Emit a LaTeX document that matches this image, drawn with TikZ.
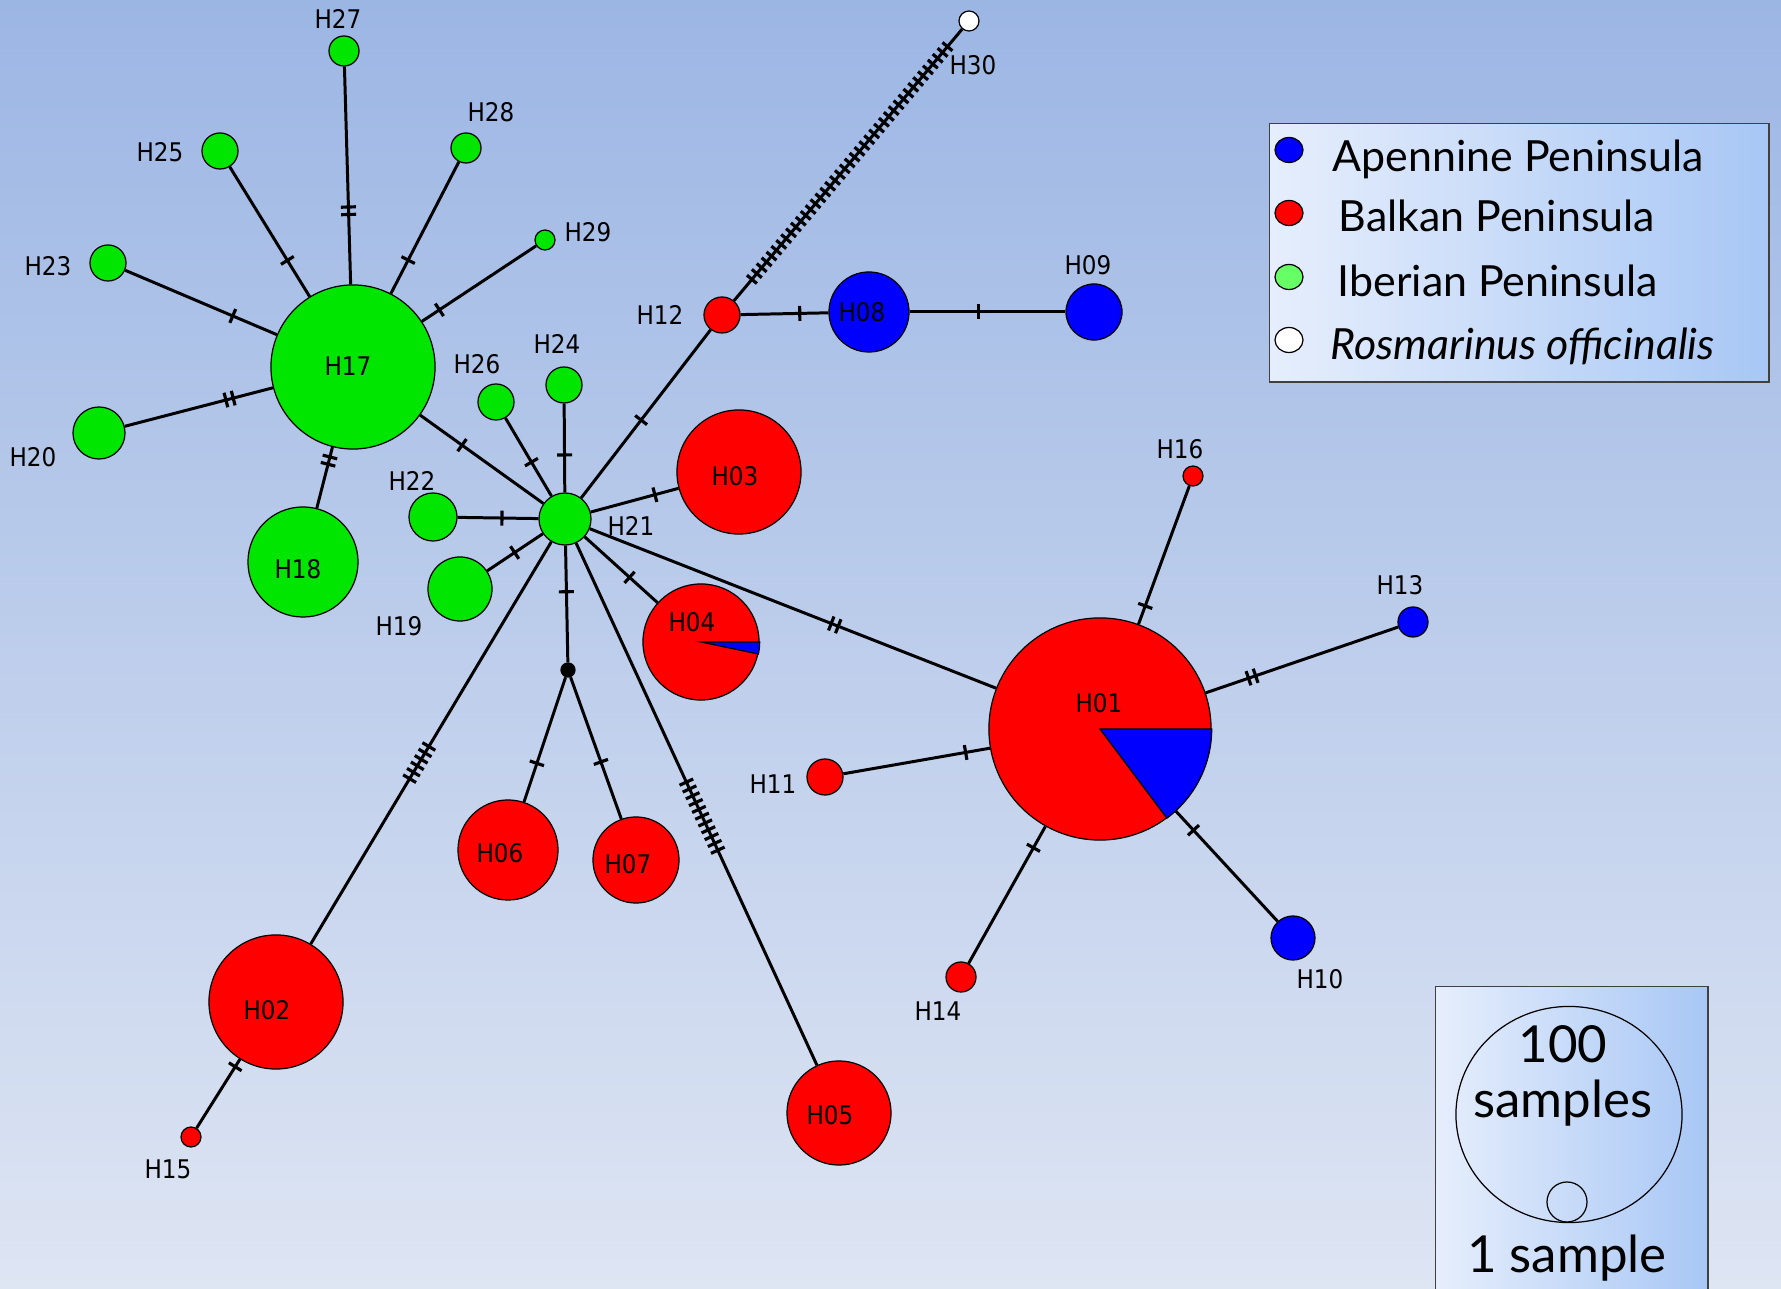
\documentclass[tikz,border=0pt]{standalone}
\usepackage{fontspec}
\setmainfont{Lato}
\newfontfamily\lblfont[FakeStretch=0.9]{DejaVu Sans}
\usetikzlibrary{decorations.markings,shapes.geometric}
\definecolor{bgtop}{RGB}{156,182,228}
\definecolor{bgbot}{RGB}{222,229,243}
\definecolor{hred}{RGB}{255,0,0}
\definecolor{hblue}{RGB}{0,0,255}
\definecolor{hgreen}{RGB}{0,230,0}
\definecolor{lgreen}{RGB}{102,255,102}
\definecolor{boxL}{RGB}{230,238,252}
\definecolor{boxR}{RGB}{168,199,245}
\begin{document}
\begin{tikzpicture}[x=0.01cm,y=-0.01cm,
  hap/.style={circle,draw=black,line width=0.35pt,inner sep=0pt,minimum size=0.02cm*#1},
  lbl/.style={font=\lblfont\fontsize{7.3}{8}\selectfont,inner sep=0pt},
  edge/.style={line width=0.85pt},
  tk/.style n args={2}{postaction={decorate,decoration={markings,mark=at position #2 with {\foreach \i in {1,...,#1}{\pgfmathsetmacro\tkoff{(\i-(#1+1)/2)*7.5}\draw[line width=0.9pt] (\tkoff,-7.5)--(\tkoff,7.5);}}}}},
  tkd/.style n args={2}{postaction={decorate,decoration={markings,mark=at position #2 with {\foreach \i in {1,...,#1}{\pgfmathsetmacro\tkoff{(\i-(#1+1)/2)*7.6}\draw[line width=0.9pt] (\tkoff,-6.5)--(\tkoff,6.5);}}}}},
  legtxt/.style={anchor=base west,inner sep=0pt,font=\fontsize{12.2}{14}\selectfont},
  sctxt/.style={anchor=base,inner sep=0pt,font=\fontsize{14.5}{16}\selectfont}
]
\useasboundingbox (0,0) rectangle (1781,1289);
\shade[top color=bgtop,bottom color=bgbot] (0,0) rectangle (1781,1289);

% haplotype nodes
\node[hap=15,fill=hgreen] (H27) at (344,51) {};
\node[hap=18,fill=hgreen] (H25) at (220,151) {};
\node[hap=15,fill=hgreen] (H28) at (466,148) {};
\node[hap=10,fill=hgreen] (H29) at (545,240) {};
\node[hap=18,fill=hgreen] (H23) at (108,263) {};
\node[hap=82,fill=hgreen] (H17) at (353,367) {};
\node[hap=26,fill=hgreen] (H20) at (99,433) {};
\node[hap=55,fill=hgreen] (H18) at (303,562) {};
\node[hap=18,fill=hgreen] (H26) at (496,402) {};
\node[hap=18,fill=hgreen] (H24) at (564,385) {};
\node[hap=24,fill=hgreen] (H22) at (433,517) {};
\node[hap=26,fill=hgreen] (H21) at (565,519) {};
\node[hap=32,fill=hgreen] (H19) at (460,589) {};
\node[hap=18,fill=hred] (H12) at (722,315) {};
\node[hap=40,fill=hblue] (H08) at (869,312) {};
\node[hap=28,fill=hblue] (H09) at (1094,312) {};
\node[hap=10,fill=white] (H30) at (969,21) {};
\node[hap=62,fill=hred] (H03) at (739,472) {};
\node[hap=58,fill=hred] (H04) at (701,642) {};
\node[hap=10,fill=hred] (H16) at (1193,476) {};
\node[hap=15,fill=hblue] (H13) at (1413,622) {};
\node[hap=111,fill=hred] (H01) at (1100,729) {};
\node[hap=18,fill=hred] (H11) at (825,777) {};
\node[hap=22,fill=hblue] (H10) at (1293,938) {};
\node[hap=15,fill=hred] (H14) at (961,977) {};
\node[hap=50,fill=hred] (H06) at (508,850) {};
\node[hap=43,fill=hred] (H07) at (636,860) {};
\node[hap=7,fill=black] (mv) at (568,670) {};
\node[hap=67,fill=hred] (H02) at (276,1002) {};
\node[hap=10,fill=hred] (H15) at (191,1137) {};
\node[hap=52,fill=hred] (H05) at (839,1113) {};

% pie slices
\filldraw[fill=hblue,draw=black,line width=0.35pt] (H01.center) -- (H01.0) arc[start angle=0,end angle=-53.4,radius=1.11cm] -- cycle;
\filldraw[fill=hblue,draw=black,line width=0.35pt] (H04.center) -- (H04.0) arc[start angle=0,end angle=-12,radius=0.58cm] -- cycle;

% edges
\draw[edge,tk={2}{0.338}] (H17) -- (H27);
\draw[edge,tk={1}{0.279}] (H17) -- (H25);
\draw[edge,tk={1}{0.254}] (H17) -- (H28);
\draw[edge,tk={1}{0.153}] (H17) -- (H29);
\draw[edge,tk={1}{0.291}] (H17) -- (H23);
\draw[edge,tk={2}{0.293}] (H17) -- (H20);
\draw[edge,tk={2}{0.222}] (H17) -- (H18);
\draw[edge,tk={1}{0.340}] (H17) -- (H21);
\draw[edge,tk={1}{0.435}] (H21) -- (H26);
\draw[edge,tk={1}{0.422}] (H21) -- (H24);
\draw[edge,tk={1}{0.451}] (H21) -- (H22);
\draw[edge,tk={1}{0.506}] (H21) -- (H19);
\draw[edge,tk={1}{0.395}] (H21) -- (mv);
\draw[edge,tk={1}{0.691}] (mv) -- (H06);
\draw[edge,tk={1}{0.598}] (mv) -- (H07);
\draw[edge,tk={6}{0.549}] (H21) -- (H02);
\draw[edge,tk={11}{0.523}] (H21) -- (H05);
\draw[edge,tk={1}{0.616}] (H21) -- (H04);
\draw[edge,tk={1}{0.731}] (H21) -- (H03);
\draw[edge,tk={1}{0.463}] (H21) -- (H12);
\draw[edge,tk={2}{0.603}] (H21) -- (H01);
\draw[edge,tkd={41}{0.508}] (H12) -- (H30);
\draw[edge,tk={1}{0.674}] (H12) -- (H08);
\draw[edge,tk={1}{0.44}] (H08) -- (H09);
\draw[edge,tk={1}{0.132}] (H01) -- (H16);
\draw[edge,tk={2}{0.241}] (H01) -- (H13);
\draw[edge,tk={1}{0.166}] (H01) -- (H11);
\draw[edge,tk={1}{0.156}] (H01) -- (H14);
\draw[edge,tk={1}{0.174}] (H01) -- (H10);
\draw[edge,tk={1}{0.109}] (H02) -- (H15);

% labels
\node[lbl] (lH27) at (338,19) {H27};
\node[lbl] (lH25) at (160,152) {H25};
\node[lbl] (lH28) at (491,112) {H28};
\node[lbl] (lH29) at (588,232) {H29};
\node[lbl] (lH23) at (48,266) {H23};
\node[lbl] (lH17) at (348,366) {H17};
\node[lbl] (lH20) at (33,457) {H20};
\node[lbl] (lH18) at (298,569) {H18};
\node[lbl] (lH26) at (477,364) {H26};
\node[lbl] (lH24) at (557,344) {H24};
\node[lbl] (lH22) at (412,481) {H22};
\node[lbl] (lH21) at (631,526) {H21};
\node[lbl] (lH19) at (399,626) {H19};
\node[lbl] (lH12) at (660,315) {H12};
\node[lbl] (lH08) at (862,312) {H08};
\node[lbl] (lH09) at (1088,265) {H09};
\node[lbl] (lH30) at (973,65) {H30};
\node[lbl] (lH03) at (735,476) {H03};
\node[lbl] (lH04) at (692,622) {H04};
\node[lbl] (lH16) at (1180,449) {H16};
\node[lbl] (lH13) at (1400,585) {H13};
\node[lbl] (lH01) at (1099,703) {H01};
\node[lbl] (lH11) at (773,784) {H11};
\node[lbl] (lH10) at (1320,979) {H10};
\node[lbl] (lH14) at (938,1011) {H14};
\node[lbl] (lH06) at (500,853) {H06};
\node[lbl] (lH07) at (628,864) {H07};
\node[lbl] (lH02) at (267,1010) {H02};
\node[lbl] (lH15) at (168,1169) {H15};
\node[lbl] (lH05) at (830,1115) {H05};

% legend
\node[draw=black!75,line width=0.4pt,left color=boxL,right color=boxR,anchor=north west,minimum width=4.99cm,minimum height=2.58cm,inner sep=0pt] (legend) at (1269,123) {};
\node[ellipse,draw=black,line width=0.35pt,fill=hblue,minimum width=0.28cm,minimum height=0.25cm,inner sep=0pt] (kA) at (1289,150) {};
\node[ellipse,draw=black,line width=0.35pt,fill=hred,minimum width=0.28cm,minimum height=0.25cm,inner sep=0pt] (kB) at (1289,213) {};
\node[ellipse,draw=black,line width=0.35pt,fill=lgreen,minimum width=0.28cm,minimum height=0.25cm,inner sep=0pt] (kI) at (1289,277) {};
\node[ellipse,draw=black,line width=0.35pt,fill=white,minimum width=0.28cm,minimum height=0.25cm,inner sep=0pt] (kR) at (1289,340) {};
\node[legtxt] (tA) at (1332,172) {Apennine Peninsula};
\node[legtxt] (tB) at (1338,232) {Balkan Peninsula};
\node[legtxt] (tI) at (1337,297) {Iberian Peninsula};
\node[legtxt] (tR) at (1330,360) {\itshape Rosmarinus officinalis};

% scale box
\node[draw=black!75,line width=0.4pt,left color=boxL,right color=boxR,anchor=north west,minimum width=2.72cm,minimum height=3.06cm,inner sep=0pt] (scalebox) at (1435,986) {};
\node[ellipse,draw=black,line width=0.35pt,minimum width=2.26cm,minimum height=2.16cm,inner sep=0pt] (big) at (1569,1114.5) {};
\node[circle,draw=black,line width=0.35pt,minimum size=0.4cm,inner sep=0pt] (small) at (1567,1202) {};
\node[sctxt] (t100) at (1563,1063) {100};
\node[sctxt] (tsam) at (1563,1118) {samples};
\node[sctxt] (t1s) at (1567,1273) {1 sample};
\end{tikzpicture}
\end{document}
